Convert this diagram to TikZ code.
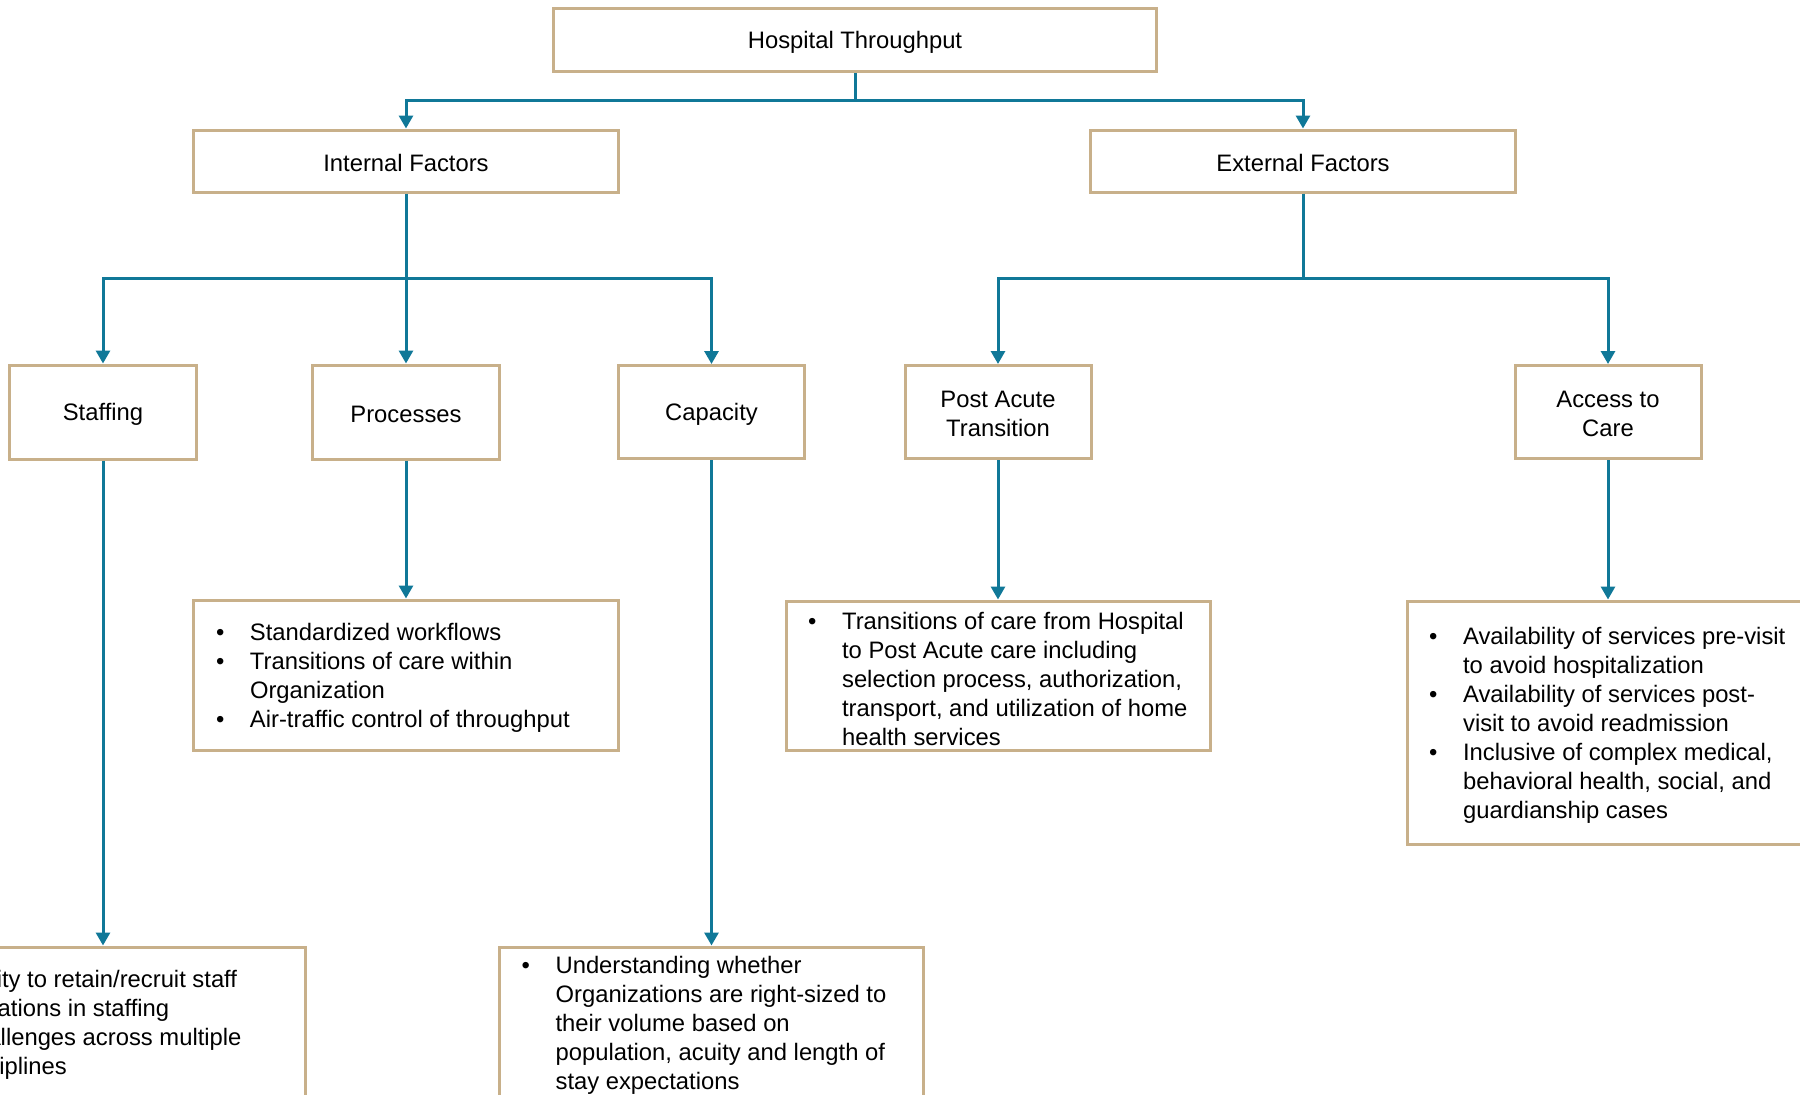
\documentclass[tikz,border=0pt]{standalone}
\usepackage{fontspec}
\setmainfont{Liberation Sans}
\usetikzlibrary{arrows.meta}
\definecolor{tanc}{RGB}{200,176,138}
\definecolor{tealc}{RGB}{16,120,152}
\newcommand\bul{\makebox[17pt][l]{\textbullet}}
\newcommand\ind{\hspace*{17pt}}
\begin{document}
\begin{tikzpicture}[x=0.5pt,y=-0.5pt,
 box/.style={draw=tanc,line width=1.5pt,fill=white,inner sep=0pt},
 boxtxt/.style={align=center,inner sep=0pt,yshift=-1.2pt,font=\fontsize{11.9}{14.5}\selectfont},
 bulltxt/.style={align=left,inner sep=0pt,anchor=west,yshift=-1.5pt,font=\fontsize{11.9}{14.5}\selectfont},
 conn/.style={draw=tealc,line width=1.5pt},
 arr/.style={conn,-{Triangle[width=7pt,length=6.5pt]}}]
\useasboundingbox (0,0) rectangle (1800,1094);
\clip (0,0) rectangle (1800,1094);
% level 1
\node[box,minimum width=301.5pt,minimum height=31.5pt] (top) at (855,40) {};
\node[boxtxt] (topt) at (top.center) {Hospital Throughput};
% level 2
\node[box,minimum width=212.5pt,minimum height=31pt] (int) at (406,161) {};
\node[boxtxt] (intt) at (int.center) {Internal Factors};
\node[box,minimum width=212.5pt,minimum height=31pt] (ext) at (1303,161) {};
\node[boxtxt] (extt) at (ext.center) {External Factors};
% level 3
\node[box,minimum width=93.5pt,minimum height=47pt] (staff) at (103,412) {};
\node[boxtxt] (stafft) at (staff.center) {Staffing};
\node[box,minimum width=93.5pt,minimum height=47pt] (proc) at (406,412) {};
\node[boxtxt] (proct) at (proc.center) {Processes};
\node[box,minimum width=93pt,minimum height=46.5pt] (cap) at (711.5,412) {};
\node[boxtxt] (capt) at (cap.center) {Capacity};
\node[box,minimum width=93pt,minimum height=46.5pt] (post) at (998,412) {};
\node[boxtxt] (postt) at (post.center) {Post Acute\\Transition};
\node[box,minimum width=93pt,minimum height=46.5pt] (acc) at (1608,412) {};
\node[boxtxt] (acct) at (acc.center) {Access to\\Care};
% bullet boxes
\node[box,minimum width=212.5pt,minimum height=75pt] (procb) at (406,675) {};
\node[bulltxt] (procbt) at ([xshift=11.8pt]procb.west) {\bul Standardized workflows\\
\bul Transitions of care within\\
\ind Organization\\
\bul Air-traffic control of throughput};
\node[box,minimum width=212pt,minimum height=74.5pt] (postb) at (998,675.5) {};
\node[bulltxt] (postbt) at ([xshift=11.6pt]postb.west) {\bul Transitions of care from Hospital\\
\ind to Post Acute care including\\
\ind selection process, authorization,\\
\ind transport, and utilization of home\\
\ind health services};
\node[box,minimum width=201pt,minimum height=121.5pt] (accb) at (1608,722.5) {};
\node[bulltxt] (accbt) at ([xshift=11.6pt]accb.west) {\bul Availability of services pre-visit\\
\ind to avoid hospitalization\\
\bul Availability of services post-\\
\ind visit to avoid readmission\\
\bul Inclusive of complex medical,\\
\ind behavioral health, social, and\\
\ind guardianship cases};
\node[box,minimum width=202pt,minimum height=75pt] (staffb) at (103,1022) {};
\node[bulltxt] (staffbt) at ([xshift=11.6pt]staffb.west) {\bul Ability to retain/recruit staff\\
\bul Variations in staffing\\
\bul Challenges across multiple\\
\ind disciplines};
\node[box,minimum width=212pt,minimum height=75pt] (capb) at (711.5,1022) {};
\node[bulltxt] (capbt) at ([xshift=11.6pt]capb.west) {\bul Understanding whether\\
\ind Organizations are right-sized to\\
\ind their volume based on\\
\ind population, acuity and length of\\
\ind stay expectations};
% connectors
\coordinate (b1) at (855,100);
\draw[conn] (top.south) -- (b1);
\draw[arr] (b1) -| (int.north);
\draw[arr] (b1) -| (ext.north);
\coordinate (b2) at (406,278);
\draw[conn] (int.south) -- (b2);
\draw[arr] (b2) -| (staff.north);
\draw[arr] (b2) -- (proc.north);
\draw[arr] (b2) -| (cap.north);
\coordinate (b3) at (1303,278);
\draw[conn] (ext.south) -- (b3);
\draw[arr] (b3) -| (post.north);
\draw[arr] (b3) -| (acc.north);
\draw[arr] (staff.south) -- (staffb.north);
\draw[arr] (proc.south) -- (procb.north);
\draw[arr] (cap.south) -- (capb.north);
\draw[arr] (post.south) -- (postb.north);
\draw[arr] (acc.south) -- (accb.north);
\end{tikzpicture}
\end{document}
